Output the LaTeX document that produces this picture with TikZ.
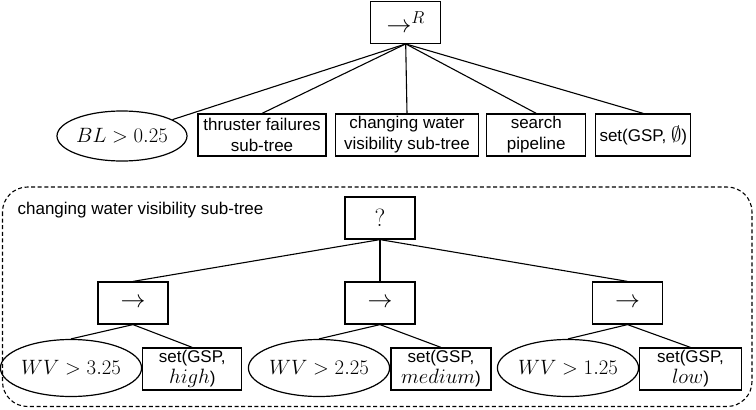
\documentclass[tikz,border=0pt]{standalone}
\usepackage{amssymb}
\usepackage{amsmath}
\usepackage[no-math]{fontspec}
\setmainfont{Liberation Sans}[Scale=0.81]
\usetikzlibrary{shapes.geometric}

\begin{document}
\begin{tikzpicture}[x=1pt, y=-1pt, every node/.style={draw, line width=1.2pt, inner sep=2pt, align=center, font=\fontsize{21}{21}\selectfont}]
	\tikzset{box/.style={rectangle, minimum height=42pt}}
	\tikzset{cond/.style={ellipse, inner sep=0pt}}
	\tikzset{ctrl/.style={rectangle, minimum width=70pt, minimum height=42pt, font=\fontsize{27}{30}\selectfont}}
	\tikzset{edge/.style={line width=1.1pt}}
	\useasboundingbox (0,0) rectangle (756,410);
	% main tree
	\node[ctrl] (root) at (405.7,22.3) {$\rightarrow^R$};
	\node[cond, minimum width=130pt, minimum height=50pt] (bl) at (122,136) {$BL > 0.25$};
	\node[box, minimum width=128pt] (thr) at (262,135) {thruster failures\\sub-tree};
	\node[box, minimum width=143pt] (cwv) at (407,135) {changing water\\visibility sub-tree};
	\node[box, minimum width=99pt] (sp) at (536.3,135) {search\\pipeline};
	\node[box, minimum width=95pt] (gsp) at (643.3,135) {set(GSP, $\emptyset$)};
	\draw[edge] (root.south) -- (bl);
	\draw[edge] (root.south) -- (thr.north);
	\draw[edge] (root.south) -- (cwv.north);
	\draw[edge] (root.south) -- (sp.north);
	\draw[edge] (root.south) -- (gsp.north);
	% sub-tree
	\draw[line width=1.1pt, dash pattern=on 4pt off 2.6pt, rounded corners=25pt] (2.5,187) rectangle (752,406.5);
	\node[draw=none, anchor=west, inner sep=0pt] (title) at (17,210) {changing water visibility sub-tree};
	\node[ctrl] (sel) at (380,218) {$?$};
	\node[ctrl] (seq1) at (133,303) {$\rightarrow$};
	\node[ctrl] (seq2) at (380,303) {$\rightarrow$};
	\node[ctrl] (seq3) at (627.5,303) {$\rightarrow$};
	\node[cond, minimum width=128pt, minimum height=57pt] (wv1) at (71,368) {$WV > 3.25$};
	\node[box, minimum width=99pt] (set1) at (192.3,369) {set(GSP,\\$high$)};
	\node[cond, minimum width=128pt, minimum height=57pt] (wv2) at (319,368) {$WV > 2.25$};
	\node[box, minimum width=100pt] (set2) at (441,369) {set(GSP,\\$medium$)};
	\node[cond, minimum width=128pt, minimum height=57pt] (wv3) at (568,368) {$WV > 1.25$};
	\node[box, minimum width=102pt] (set3) at (690.5,369) {set(GSP,\\$low$)};
	\draw[edge] (sel.south) -- (seq1.north);
	\draw[edge] (sel.south) -- (seq2.north);
	\draw[edge] (sel.south) -- (seq3.north);
	\draw[edge] (seq1.south) -- (wv1.north);
	\draw[edge] (seq1.south) -- (set1.north);
	\draw[edge] (seq2.south) -- (wv2.north);
	\draw[edge] (seq2.south) -- (set2.north);
	\draw[edge] (seq3.south) -- (wv3.north);
	\draw[edge] (seq3.south) -- (set3.north);
\end{tikzpicture}
\end{document}
